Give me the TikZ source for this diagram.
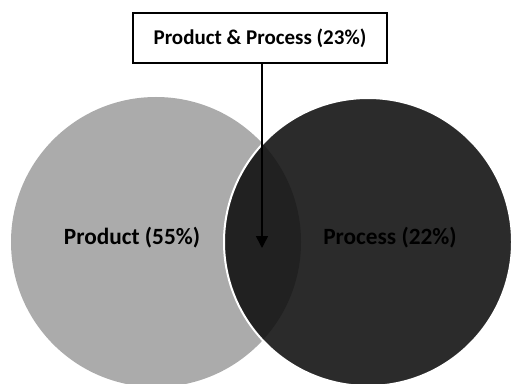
\documentclass[tikz,border=0pt]{standalone}
\usepackage{fontspec}
\setmainfont{Carlito}
\usepackage{xcolor}
\usetikzlibrary{calc,arrows.meta}
\definecolor{productgray}{HTML}{ABABAB}
\definecolor{processgray}{HTML}{2B2B2B}
\definecolor{bothgray}{HTML}{212121}
\tikzset{
  setlabel/.style={font=\bfseries\fontsize{23.3}{25}\selectfont,text=black},
  sharebox/.style={draw=black,line width=1.2pt,fill=white,minimum width=254pt,minimum height=50pt,font=\bfseries\fontsize{21}{23}\selectfont},
  sharearrow/.style={line width=1.5pt,-{Triangle[length=12pt,width=12pt]}}
}
\begin{document}
\begin{tikzpicture}[x=1pt,y=1pt]
    \useasboundingbox (0,0) rectangle (513,383);
    \fill[white] (0,0) rectangle (513,383);
    \coordinate (productc) at (156,141);
    \coordinate (processc) at (368,141);
    % the two sets
    \fill[productgray] (productc) circle (145);
    \fill[processgray] (processc) circle (144);
    \begin{scope}
      \clip (processc) circle (144);
      \fill[bothgray] (productc) circle (145);
    \end{scope}
    \draw[white,line width=2pt] (processc) circle (144);
    \node[setlabel] (product) at (132,145) {Product (55\%)};
    \node[setlabel] (process) at (390,145) {Process (22\%)};
    % overlap label
    \node[sharebox] (both) at (260,345) {Product \& Process (23\%)};
    \coordinate (bothtip) at (262,135);
    \draw[sharearrow] (both.south -| bothtip) -- (bothtip);
\end{tikzpicture}
\end{document}
